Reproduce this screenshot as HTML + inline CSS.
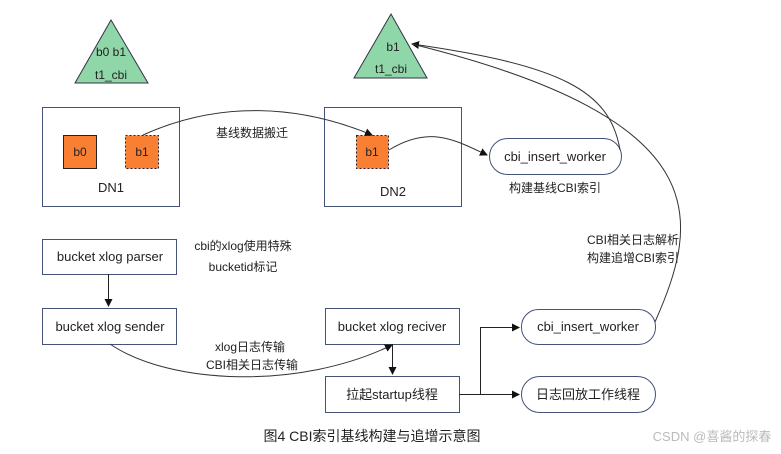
<!DOCTYPE html>
<html><head><meta charset="utf-8"><style>
body{margin:0;background:#fff}
svg text{font-family:"Liberation Sans","Noto Sans CJK SC",sans-serif;fill:#222}
</style></head><body>
<svg width="781" height="449" viewBox="0 0 781 449" xmlns="http://www.w3.org/2000/svg">
<defs><marker id="a" markerWidth="8" markerHeight="8" refX="7" refY="4" orient="auto" markerUnits="userSpaceOnUse"><path d="M0,0 L8,4 L0,8 z" fill="#111"/></marker></defs>
<g font-size="12" text-anchor="middle">
<polygon points="111,20 75,83 148,83" fill="#8fd6a8" stroke="#334"/>
<text x="111" y="56">b0 b1</text><text x="111" y="79">t1_cbi</text>
<polygon points="391,14 354,78 427,78" fill="#8fd6a8" stroke="#334"/>
<text x="393" y="51">b1</text><text x="391" y="73">t1_cbi</text>
<rect x="42.5" y="107.5" width="137" height="99" fill="#fff" stroke="#445277"/>
<rect x="324.5" y="107.5" width="137" height="99" fill="#fff" stroke="#445277"/>
<rect x="63.5" y="135.5" width="33" height="33" fill="#f97f32" stroke="#222"/>
<text x="80" y="156">b0</text>
<rect x="125.5" y="135.5" width="33" height="33" fill="#f97f32" stroke="#223" stroke-dasharray="2,2"/>
<text x="142" y="156">b1</text>
<rect x="356.5" y="135.5" width="32" height="33" fill="#f97f32" stroke="#223" stroke-dasharray="2,2"/>
<text x="372" y="156">b1</text>
<text x="111" y="192" font-size="13">DN1</text><text x="393" y="196" font-size="13">DN2</text>
<text x="252" y="137">基线数据搬迁</text>
<rect x="489.5" y="138.5" width="132" height="36" rx="18" fill="#fff" stroke="#445277"/>
<text x="555" y="161" font-size="13">cbi_insert_worker</text>
<text x="555" y="192">构建基线CBI索引</text>
<path d="M143,135 C220,100 300,105 372,135" fill="none" stroke="#333" marker-end="url(#a)"/>
<path d="M389,150 C430,125 455,140 487,155" fill="none" stroke="#333" marker-end="url(#a)"/>
<path d="M620,150 C610,90 560,65 412,44" fill="none" stroke="#333" marker-end="url(#a)"/>
<path d="M655,322 C700,220 720,120 412,44" fill="none" stroke="#333"/>
<g font-size="13">
<rect x="42.5" y="239.5" width="134" height="35" fill="#fff" stroke="#445277"/>
<text x="110" y="261">bucket xlog parser</text>
<rect x="42.5" y="308.5" width="134" height="36" fill="#fff" stroke="#445277"/>
<text x="110" y="331">bucket xlog sender</text>
<rect x="325.5" y="308.5" width="134" height="36" fill="#fff" stroke="#445277"/>
<text x="392" y="331">bucket xlog reciver</text>
<rect x="325.5" y="376.5" width="134" height="36" fill="#fff" stroke="#445277"/>
<text x="392" y="399">拉起startup线程</text>
<rect x="521.5" y="309.5" width="134" height="35" rx="17" fill="#fff" stroke="#445277"/>
<text x="588" y="331">cbi_insert_worker</text>
<rect x="521.5" y="376.5" width="134" height="36" rx="18" fill="#fff" stroke="#445277"/>
<text x="588" y="399">日志回放工作线程</text>
</g>
<text x="243" y="250">cbi的xlog使用特殊</text><text x="243" y="271">bucketid标记</text>
<text x="633" y="244">CBI相关日志解析</text><text x="633" y="262">构建追增CBI索引</text>
<text x="250" y="351">xlog日志传输</text><text x="252" y="369">CBI相关日志传输</text>
<path d="M108.5,274 V306" stroke="#222" fill="none" marker-end="url(#a)"/>
<path d="M392.5,344 V374" stroke="#222" fill="none" marker-end="url(#a)"/>
<path d="M110,344 C170,385 300,390 392,345" stroke="#333" fill="none" marker-end="url(#a)"/>
<path d="M459,394.5 H480.5 V327.5 H519" stroke="#222" fill="none" marker-end="url(#a)"/>
<path d="M480,394.5 H519" stroke="#222" fill="none" marker-end="url(#a)"/>
<text x="372" y="441" font-size="14">图4 CBI索引基线构建与追增示意图</text>
<text x="712" y="441" font-size="13" style="fill:#bbb">CSDN @喜酱的探春</text>
</g>
</svg>
</body></html>
